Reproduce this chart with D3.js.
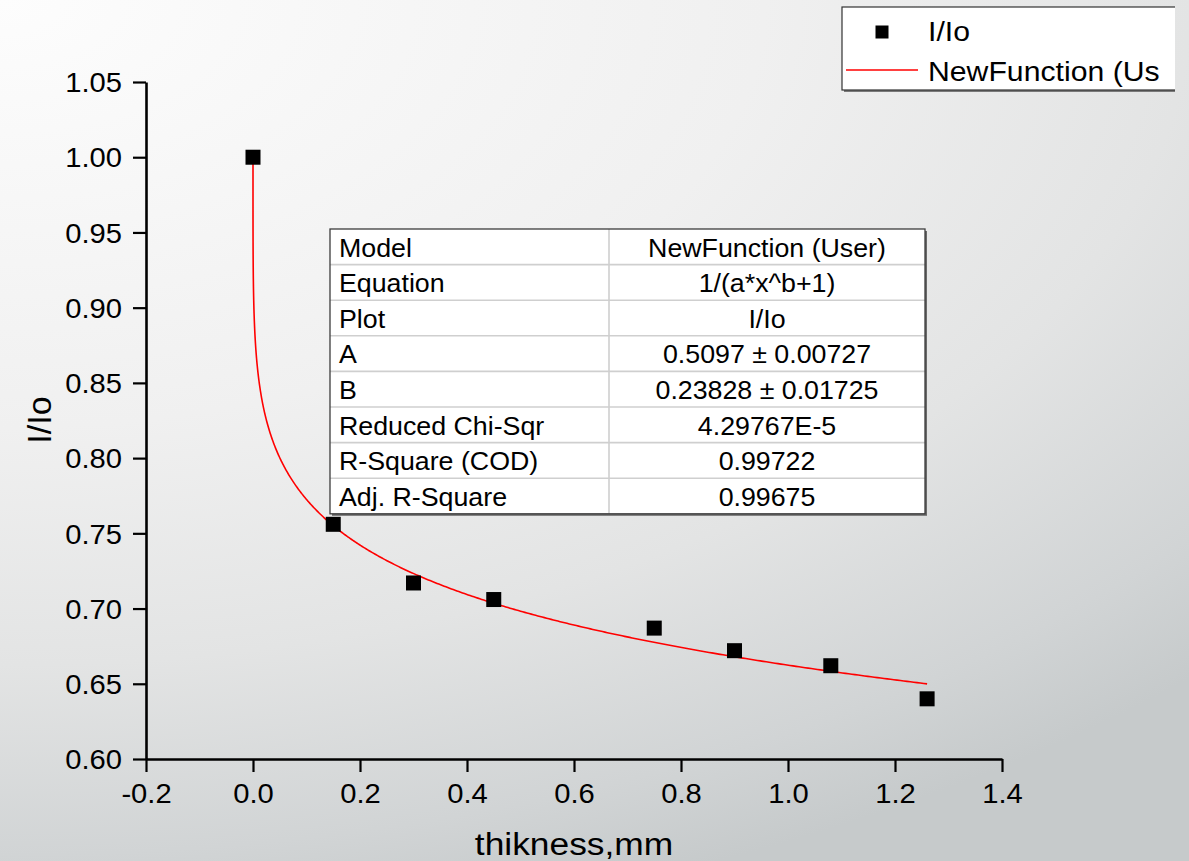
<!DOCTYPE html>
<html>
<head>
<meta charset="utf-8">
<script src="https://cdn.jsdelivr.net/npm/d3@7"></script>
<style>
  html, body { margin: 0; padding: 0; background: #ffffff; }
  svg { display: block; font-family: "Liberation Sans", Arial, sans-serif; }
</style>
</head>
<body>
<svg id="chart" width="1189" height="861"></svg>
<script>
// Measured transmission I/Io versus layer thickness
const thickness = [0, 0.15, 0.30, 0.45, 0.75, 0.90, 1.08, 1.26];
const ratio     = [1.000, 0.756, 0.717, 0.706, 0.687, 0.672, 0.662, 0.640];

// Fitted model parameters  y = 1/(a*x^b + 1)
const fitA = 0.5097, fitAErr = 0.00727;
const fitB = 0.23828, fitBErr = 0.01725;

// Axis ticks
const xTickValues = [-0.2, 0.0, 0.2, 0.4, 0.6, 0.8, 1.0, 1.2, 1.4];
const yTickValues = [0.60, 0.65, 0.70, 0.75, 0.80, 0.85, 0.90, 0.95, 1.00, 1.05];

// Fit summary table
const tableLabels = ["Model", "Equation", "Plot", "A", "B", "Reduced Chi-Sqr", "R-Square (COD)", "Adj. R-Square"];
const tableValues = ["NewFunction (User)", "1/(a*x^b+1)", "I/Io",
  `${fitA} \u00b1 ${fitAErr}`, `${fitB} \u00b1 ${fitBErr}`,
  "4.29767E-5", "0.99722", "0.99675"];

// Legend entries
const legendLabels = ["I/Io", "NewFunction (Us"];

const svg = d3.select("#chart");
const W = 1189, H = 861;

// Soft grey backdrop, lightest at the top-left corner
const defs = svg.append("defs");
const grad = defs.append("radialGradient")
  .attr("id", "bg").attr("gradientUnits", "userSpaceOnUse")
  .attr("cx", 0).attr("cy", 0).attr("r", 1).attr("fx", 0).attr("fy", 0)
  .attr("gradientTransform", "scale(1700,950)");
[[0, "#fdfdfd"], [0.45, "#f0f0f0"], [0.7, "#e3e4e4"], [0.9, "#d1d4d5"], [1, "#c6cacb"]]
  .forEach(([o, c]) => grad.append("stop").attr("offset", o).attr("stop-color", c));
svg.append("rect").attr("width", W).attr("height", H).attr("fill", "url(#bg)");

const x = d3.scaleLinear().domain([-0.2, 1.4]).range([146, 1002]);
const y = d3.scaleLinear().domain([0.60, 1.05]).range([759, 82]);

const sx = 1.08; // slight horizontal widening of the glyphs

// Minor ticks halfway between major ticks
const mid = arr => d3.pairs(arr).map(([a, b]) => (a + b) / 2);

// Y axis
const gy = svg.append("g").attr("transform", `translate(${x(-0.2)},0)`);
gy.call(d3.axisLeft(y).tickValues(mid(yTickValues)).tickSize(7).tickSizeOuter(0).tickFormat(""));
gy.call(d3.axisLeft(y).tickValues(yTickValues).tickSize(13).tickSizeOuter(0).tickFormat(v => v.toFixed(2)));
gy.selectAll("text").attr("x", -24 / sx).attr("dy", "0.36em")
  .attr("transform", `scale(${sx},1)`)
  .style("font-size", "27px").attr("fill", "#000");

// X axis
const gx = svg.append("g").attr("transform", `translate(0,${y(0.60)})`);
gx.call(d3.axisBottom(x).tickValues(mid(xTickValues)).tickSize(7).tickSizeOuter(0).tickFormat(""));
gx.call(d3.axisBottom(x).tickValues(xTickValues).tickSize(13).tickSizeOuter(0).tickFormat(v => v.toFixed(1)));
gx.selectAll("text").attr("y", 44).attr("dy", 0)
  .attr("transform", `scale(${sx},1)`)
  .style("font-size", "27px").attr("fill", "#000");

svg.selectAll(".domain").attr("stroke", "#000").attr("stroke-width", 2.6);
svg.selectAll(".tick line").attr("stroke", "#000").attr("stroke-width", 2.2);

// Axis titles
svg.append("text")
  .attr("transform", `translate(${(x(-0.2) + x(1.4)) / 2},855) scale(1.14,1)`)
  .attr("text-anchor", "middle").style("font-size", "31px").attr("fill", "#000")
  .text("thikness,mm");
svg.append("text")
  .attr("transform", "translate(51,420) rotate(-90)")
  .attr("text-anchor", "middle").style("font-size", "34px").attr("fill", "#000")
  .text("I/Io");

// Fitted curve
const model = t => 1 / (fitA * Math.pow(t, fitB) + 1);
const xMax = d3.max(thickness);
const curveX = d3.range(0, 401).map(i => xMax * Math.pow(i / 400, 2));
svg.append("path")
  .datum(curveX)
  .attr("fill", "none").attr("stroke", "#ff0000").attr("stroke-width", 1.6)
  .attr("d", d3.line().x(t => x(t)).y(t => y(model(t))));

// Data points
const ms = 15;
svg.append("g").selectAll("rect")
  .data(thickness.map((t, i) => [t, ratio[i]]))
  .join("rect")
  .attr("x", d => x(d[0]) - ms / 2).attr("y", d => y(d[1]) - ms / 2)
  .attr("width", ms).attr("height", ms).attr("fill", "#000");

// Fit summary table
const tX0 = 330, tX1 = 925, tCol = 609, tY0 = 229, rowH = 35.6;
const tY1 = tY0 + rowH * tableLabels.length;
const tbl = svg.append("g");
tbl.append("rect").attr("x", tX0 + 2).attr("y", tY0 + 2).attr("width", tX1 - tX0).attr("height", tY1 - tY0)
  .attr("fill", "#6a6a6a");
tbl.append("rect").attr("x", tX0).attr("y", tY0).attr("width", tX1 - tX0).attr("height", tY1 - tY0)
  .attr("fill", "#ffffff");
tbl.selectAll("line.row").data(d3.range(1, tableLabels.length)).join("line")
  .attr("x1", tX0).attr("x2", tX1)
  .attr("y1", i => tY0 + i * rowH).attr("y2", i => tY0 + i * rowH)
  .attr("stroke", "#cfcfcf").attr("stroke-width", 1.6);
tbl.append("line").attr("x1", tCol).attr("x2", tCol).attr("y1", tY0).attr("y2", tY1)
  .attr("stroke", "#cfcfcf").attr("stroke-width", 1.6);
tbl.append("rect").attr("x", tX0).attr("y", tY0).attr("width", tX1 - tX0).attr("height", tY1 - tY0)
  .attr("fill", "none").attr("stroke", "#3c3c3c").attr("stroke-width", 1.3);
tbl.selectAll("text.lab").data(tableLabels).join("text")
  .attr("transform", (d, i) => `translate(339,${tY0 + i * rowH + 27.5}) scale(1.05,1)`)
  .style("font-size", "25.5px").attr("fill", "#000").text(d => d);
tbl.selectAll("text.val").data(tableValues).join("text")
  .attr("transform", (d, i) => `translate(${(tCol + tX1) / 2},${tY0 + i * rowH + 27.5}) scale(1.05,1)`)
  .attr("text-anchor", "middle")
  .style("font-size", "25.5px").attr("fill", "#000").text(d => d);

// Legend (runs past the right edge of the frame)
defs.append("clipPath").attr("id", "legclip")
  .append("rect").attr("x", 0).attr("y", 0).attr("width", 1175).attr("height", H);
const leg = svg.append("g").attr("clip-path", "url(#legclip)");
leg.append("rect").attr("x", 844).attr("y", 9).attr("width", 400).attr("height", 83).attr("fill", "#7a7a7a");
leg.append("rect").attr("x", 842).attr("y", 7).attr("width", 400).attr("height", 83)
  .attr("fill", "#ffffff").attr("stroke", "#333", ).attr("stroke-width", 1.2);
leg.append("rect").attr("x", 882 - 6.5).attr("y", 32 - 6.5).attr("width", 13).attr("height", 13).attr("fill", "#000");
leg.append("line").attr("x1", 846).attr("x2", 918).attr("y1", 70).attr("y2", 70)
  .attr("stroke", "#ff0000").attr("stroke-width", 1.4);
leg.selectAll("text").data(legendLabels).join("text")
  .attr("transform", (d, i) => `translate(928,${41 + i * 40}) scale(1.06,1)`)
  .style("font-size", "28.5px").attr("fill", "#000").text(d => d);
</script>
</body>
</html>
